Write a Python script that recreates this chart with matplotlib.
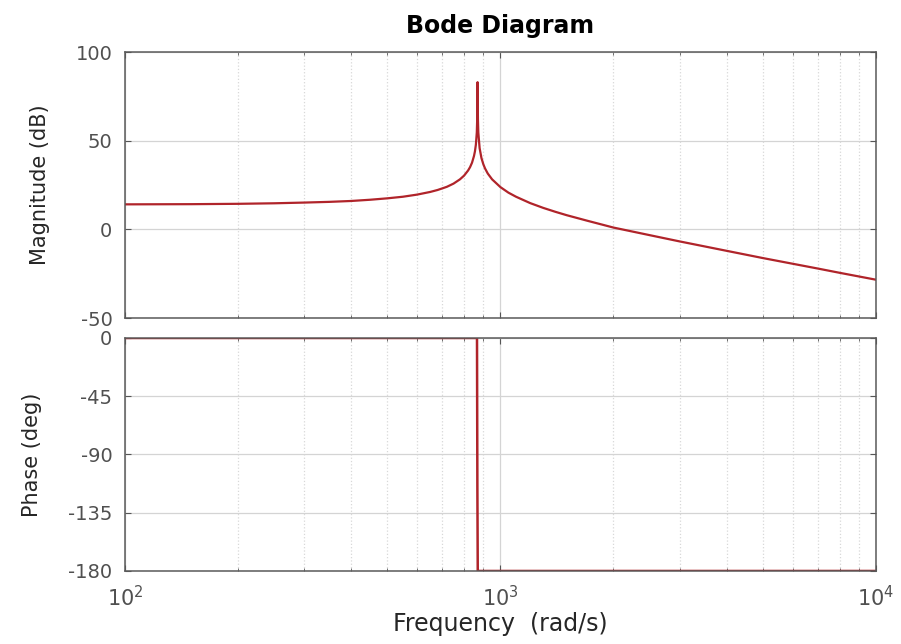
import numpy as np
import matplotlib
matplotlib.use("Agg")
import matplotlib.pyplot as plt
from matplotlib.ticker import LogLocator, LogFormatterMathtext, NullFormatter

# values
freq_mag = [100, 150, 200, 250, 300, 350, 400, 450, 500, 550, 600, 650, 680,
            700, 720, 750, 780, 800, 820, 830, 840, 850, 855, 860, 865, 867,
            869, 871, 873, 880, 890, 900, 910, 925, 950, 1000, 1050, 1100,
            1200, 1300, 1400, 1500, 1700, 2000, 2500, 3000, 4000, 5000, 6000,
            7000, 8000, 10000]
mag_db = [14.1, 14.2, 14.4, 14.7, 15.1, 15.5, 16.0, 16.7, 17.5, 18.4, 19.6,
          21.1, 22.2, 23.1, 24.0, 25.8, 28.2, 30.3, 33.2, 35.1, 37.6, 41.3,
          43.9, 47.7, 54.7, 62.0, 83.0, 62.0, 54.7, 45.8, 40.2, 36.8, 34.3,
          31.5, 28.2, 23.8, 20.7, 18.4, 14.8, 12.1, 9.9, 8.0, 4.9, 1.0, -3.3,
          -6.8, -12.1, -16.2, -19.4, -22.1, -24.5, -28.4]

freq_ph = [100, 866, 868, 870, 10000]
phase_deg = [0, 0, -115, -180, -180]

mag_ticks = [-50, 0, 50, 100]
phase_ticks = [-180, -135, -90, -45, 0]

LINE = "#b0242a"
TICKC = "#505050"
LABC = "#262626"
plt.rcParams["font.family"] = ["DejaVu Sans"]
plt.rcParams["axes.unicode_minus"] = False

fig = plt.figure(figsize=(9.01, 6.44), dpi=100)
ax1 = fig.add_axes([0.1387, 0.5062, 0.8335, 0.413])
ax2 = fig.add_axes([0.1387, 0.1134, 0.8335, 0.3618])

for ax in (ax1, ax2):
    ax.set_xscale("log")
    ax.set_xlim(100, 10000)
    ax.xaxis.set_major_locator(LogLocator(base=10))
    ax.xaxis.set_minor_locator(LogLocator(base=10, subs=np.arange(2, 10)))
    ax.xaxis.set_minor_formatter(NullFormatter())
    ax.grid(True, which="major", color="#d4d4d4", lw=0.9)
    ax.grid(True, which="minor", axis="x", color="#d8d8d8", ls=":", lw=0.9)
    ax.tick_params(which="both", direction="in", top=True, right=True,
                   colors="#555555", labelcolor=TICKC, labelsize=14)
    ax.tick_params(which="major", length=4)
    ax.tick_params(which="minor", length=2.5)
    ax.tick_params(axis="y", pad=9)
    for s in ax.spines.values():
        s.set_color("#5a5a5a")
        s.set_linewidth(1.1)
    ax.set_axisbelow(True)

ax1.plot(freq_mag, mag_db, color=LINE, lw=1.6)
ax1.set_ylim(-50, 100)
ax1.set_yticks(mag_ticks)
ax1.tick_params(axis="x", labelbottom=False)
ax1.set_ylabel("Magnitude (dB)", fontsize=15, color=LABC)
ax1.yaxis.set_label_coords(-0.10, 0.5)
ax1.set_title("Bode Diagram", fontsize=17, fontweight="bold", pad=14)

ax2.plot(freq_ph, phase_deg, color=LINE, lw=1.8)
ax2.set_ylim(-180, 0)
ax2.set_yticks(phase_ticks)
ax2.xaxis.set_major_formatter(LogFormatterMathtext())
ax2.tick_params(axis="x", pad=10, labelsize=15)
ax2.set_ylabel("Phase (deg)", fontsize=15, color=LABC)
ax2.yaxis.set_label_coords(-0.11, 0.5)
ax2.set_xlabel("Frequency  (rad/s)", fontsize=17, color=LABC)
ax2.xaxis.set_label_coords(0.5, -0.175)

fig.savefig("out.png", dpi=100)
